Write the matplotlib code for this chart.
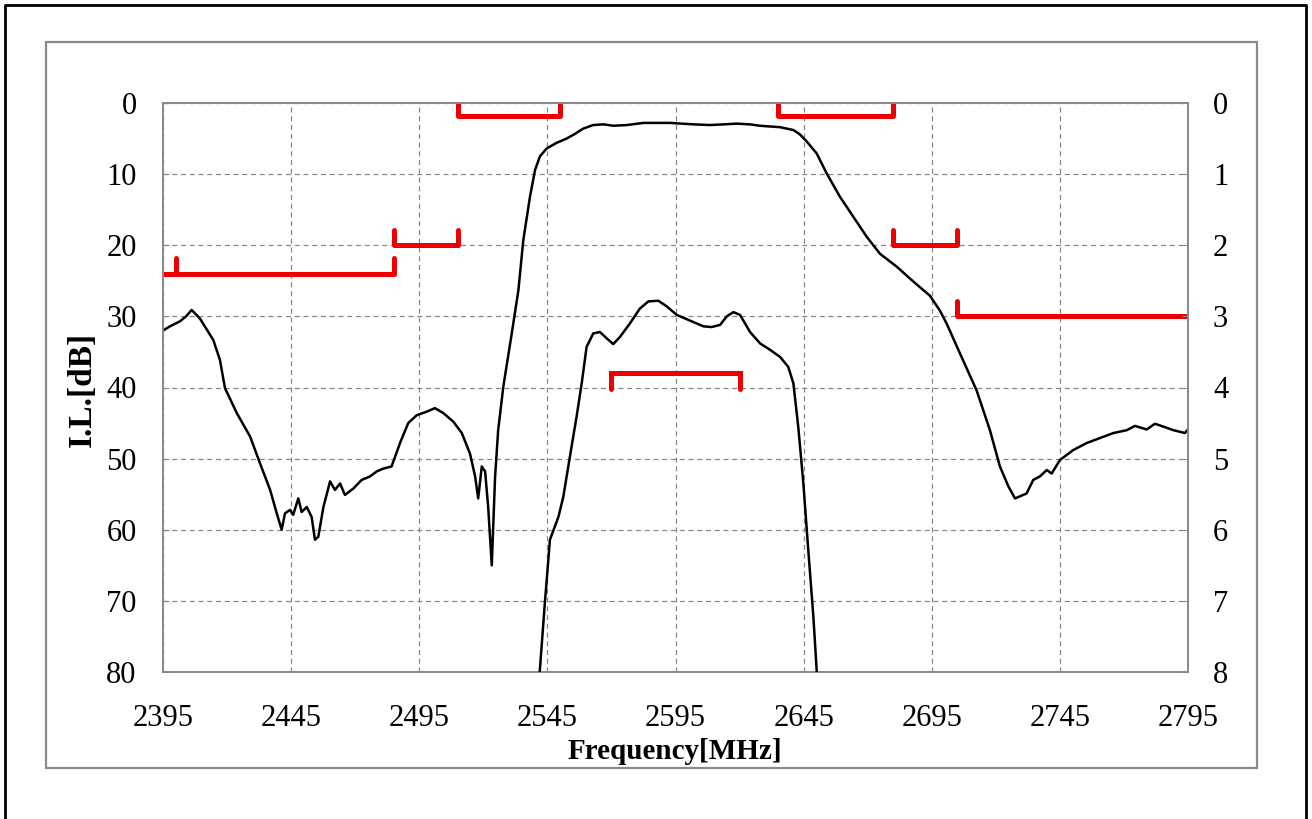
import matplotlib
matplotlib.use("Agg")
import matplotlib.pyplot as plt
from matplotlib.lines import Line2D
from matplotlib.patches import Rectangle

plt.rcParams['font.family'] = ['Liberation Serif', 'DejaVu Serif']

# ---------------- data ----------------
# wide-band insertion loss (left axis, dB)
freq_wide = [2395, 2397.7, 2401.6, 2404.0, 2406.2, 2409.4, 2414.6, 2417.2, 2419.2, 2423.8,
             2429.0, 2432.9, 2436.8, 2439.4, 2441.3, 2442.6, 2444.6, 2445.8, 2447.8, 2449.1,
             2451.1, 2453.0, 2454.3, 2455.6, 2457.6, 2460.2, 2462.1, 2464.1, 2466.0, 2469.3,
             2472.5, 2475.8, 2478.4, 2481.0, 2484.2, 2487.5, 2490.7, 2494.0, 2497.9, 2501.1,
             2504.4, 2508.3, 2511.6, 2514.8, 2516.8, 2518.0, 2519.4, 2520.7, 2521.9, 2523.3,
             2524.6, 2525.8, 2527.8, 2531.1, 2533.7, 2535.6, 2538.2, 2540.2, 2542.1, 2544.7,
             2548.6, 2552.5, 2555.5, 2559.0, 2562.9, 2566.9, 2570.7, 2576.0, 2582.4, 2592.9,
             2601.9, 2608.5, 2614.0, 2618.9, 2624.0, 2628.0, 2635.8, 2641.0, 2643.5, 2646.2,
             2650.1, 2654.0, 2659.2, 2664.4, 2669.6, 2674.8, 2681.3, 2687.8, 2694.3, 2698.2,
             2700.8, 2706.0, 2712.5, 2717.7, 2721.6, 2724.9, 2727.5, 2730.7, 2732.0, 2734.6,
             2737.2, 2739.9, 2741.8, 2745.0, 2750.2, 2755.5, 2760.7, 2765.9, 2771.1, 2774.3,
             2778.9, 2782.1, 2785.4, 2789.3, 2793.8, 2795]
il_wide = [32.0, 31.4, 30.7, 30.0, 29.1, 30.3, 33.3, 36.1, 40.1, 43.6,
           46.9, 50.7, 54.4, 57.7, 60.0, 57.7, 57.2, 57.9, 55.6, 57.5,
           56.8, 58.2, 61.4, 61.0, 56.8, 53.2, 54.4, 53.5, 55.1, 54.2,
           53.0, 52.5, 51.8, 51.4, 51.1, 47.8, 45.0, 43.9, 43.4, 42.9,
           43.6, 44.8, 46.4, 49.3, 52.5, 55.6, 51.1, 51.8, 56.8, 65.0,
           52.5, 46.0, 39.9, 32.4, 26.3, 19.3, 13.2, 9.4, 7.5, 6.4,
           5.6, 5.0, 4.4, 3.6, 3.1, 3.0, 3.2, 3.1, 2.8, 2.8,
           3.0, 3.1, 3.0, 2.9, 3.0, 3.2, 3.4, 3.8, 4.4, 5.4,
           7.1, 9.9, 13.2, 16.0, 18.8, 21.2, 23.0, 25.1, 27.1, 29.2,
           31.0, 35.2, 40.4, 46.0, 51.1, 53.9, 55.6, 55.1, 54.9, 53.0,
           52.5, 51.6, 52.1, 50.2, 48.8, 47.8, 47.1, 46.4, 46.0, 45.4,
           45.9, 45.1, 45.5, 46.0, 46.4, 45.9]

# pass-band insertion loss (right axis, zoomed dB)
freq_pass = [2541.8, 2544.1, 2546.0, 2549.3, 2551.2, 2553.8, 2556.4, 2558.4, 2560.3, 2562.9,
             2565.5, 2568.2, 2570.7, 2573.3, 2577.2, 2581.1, 2584.4, 2588.3, 2591.6, 2595.5,
             2600.7, 2605.9, 2609.1, 2612.4, 2615.0, 2617.6, 2620.2, 2624.1, 2628.0, 2631.9,
             2635.8, 2639.0, 2641.0, 2642.9, 2644.9, 2646.8, 2648.8, 2650.3]
il_pass = [8.1, 6.99, 6.14, 5.82, 5.54, 4.97, 4.41, 3.94, 3.43, 3.24,
           3.22, 3.31, 3.39, 3.29, 3.10, 2.89, 2.79, 2.78, 2.86, 2.98,
           3.06, 3.14, 3.15, 3.12, 3.00, 2.94, 2.98, 3.22, 3.38, 3.47,
           3.57, 3.71, 3.94, 4.55, 5.35, 6.28, 7.22, 8.1]

# attenuation masks (left axis)
mask_line_start = [2395, 2485, 2510, 2635, 2680, 2705]
mask_start = [2400, 2485, 2510, 2635, 2680, 2705]
mask_stop = [2485, 2510, 2550, 2680, 2705, 2795]
mask_level = [24, 20, 1.8, 1.8, 20, 30]
mask_right_tick = [True, True, True, True, True, False]

# pass-band mask (right axis)
pb_mask_start = [2570]
pb_mask_stop = [2620]
pb_mask_level = [3.8]

x_ticks = [2395, 2445, 2495, 2545, 2595, 2645, 2695, 2745, 2795]
y_left_ticks = [0, 10, 20, 30, 40, 50, 60, 70, 80]
y_right_ticks = [0, 1, 2, 3, 4, 5, 6, 7, 8]

# ---------------- figure ----------------
W, H = 1312, 819
fig = plt.figure(figsize=(W / 100, H / 100), dpi=100)

# frames
fig.add_artist(Line2D([5 / W, 5 / W, 1306 / W, 1306 / W], [-0.01, 1 - 5 / H, 1 - 5 / H, -0.01],
                      transform=fig.transFigure, color='black', lw=2.0))
fig.add_artist(Rectangle((46 / W, 1 - 768 / H), (1257 - 46) / W, (768 - 42) / H,
                         transform=fig.transFigure, fill=False, edgecolor='#8a8a8a', lw=1.6))

ax = fig.add_axes([163 / W, 1 - 672 / H, (1188 - 163) / W, (672 - 103) / H])
ax2 = ax.twinx()

ax.set_xlim(2395, 2795)
ax.set_ylim(80, 0)
ax2.set_ylim(8, 0)

ax.set_xticks(x_ticks)
ax.set_xticklabels([str(v) for v in x_ticks])
ax.set_yticks(y_left_ticks)
ax.set_yticklabels([str(v) for v in y_left_ticks])
ax2.set_yticks(y_right_ticks)
ax2.set_yticklabels([str(v) for v in y_right_ticks])

ax.grid(True, color='#888888', linestyle=(0, (4, 3)), lw=0.9)
for a in (ax, ax2):
    for s in a.spines.values():
        s.set_color('#8a8a8a')
        s.set_linewidth(1.3)
ax.tick_params(axis='x', length=0, pad=23, labelsize=22)
ax.tick_params(axis='y', length=4, direction='in', color='#8a8a8a', pad=19, labelsize=22)
ax2.tick_params(axis='y', length=4, direction='in', color='#8a8a8a', pad=18, labelsize=22)

# curves
ax.plot(freq_wide, il_wide, color='black', lw=1.8, zorder=3)
ax2.plot(freq_pass, il_pass, color='black', lw=1.8, zorder=3)

red = '#ee0000'
tick_len = 2.2
for ls, s, e, lv, rt in zip(mask_line_start, mask_start, mask_stop, mask_level, mask_right_tick):
    ax.plot([ls, e], [lv, lv], color=red, lw=3.6, solid_capstyle='butt', zorder=4)
    ax.plot([s, s], [lv, lv - tick_len], color=red, lw=3.6, solid_capstyle='round', zorder=4)
    if rt:
        ax.plot([e, e], [lv, lv - tick_len], color=red, lw=3.6, solid_capstyle='round', zorder=4)

for s, e, lv in zip(pb_mask_start, pb_mask_stop, pb_mask_level):
    ax2.plot([s, s, e, e], [lv + tick_len / 10, lv, lv, lv + tick_len / 10], color=red, lw=3.6,
             solid_capstyle='round', solid_joinstyle='miter', zorder=4)

# axis titles
fig.text(675 / W, 1 - 759 / H, 'Frequency[MHz]', ha='center', va='baseline',
         fontsize=21, fontweight='bold')
fig.text(82 / W, 1 - 389 / H, 'I.L.[dB]', ha='center', va='center', rotation=90,
         fontsize=24, fontweight='bold')

fig.savefig('out.png', dpi=100)
